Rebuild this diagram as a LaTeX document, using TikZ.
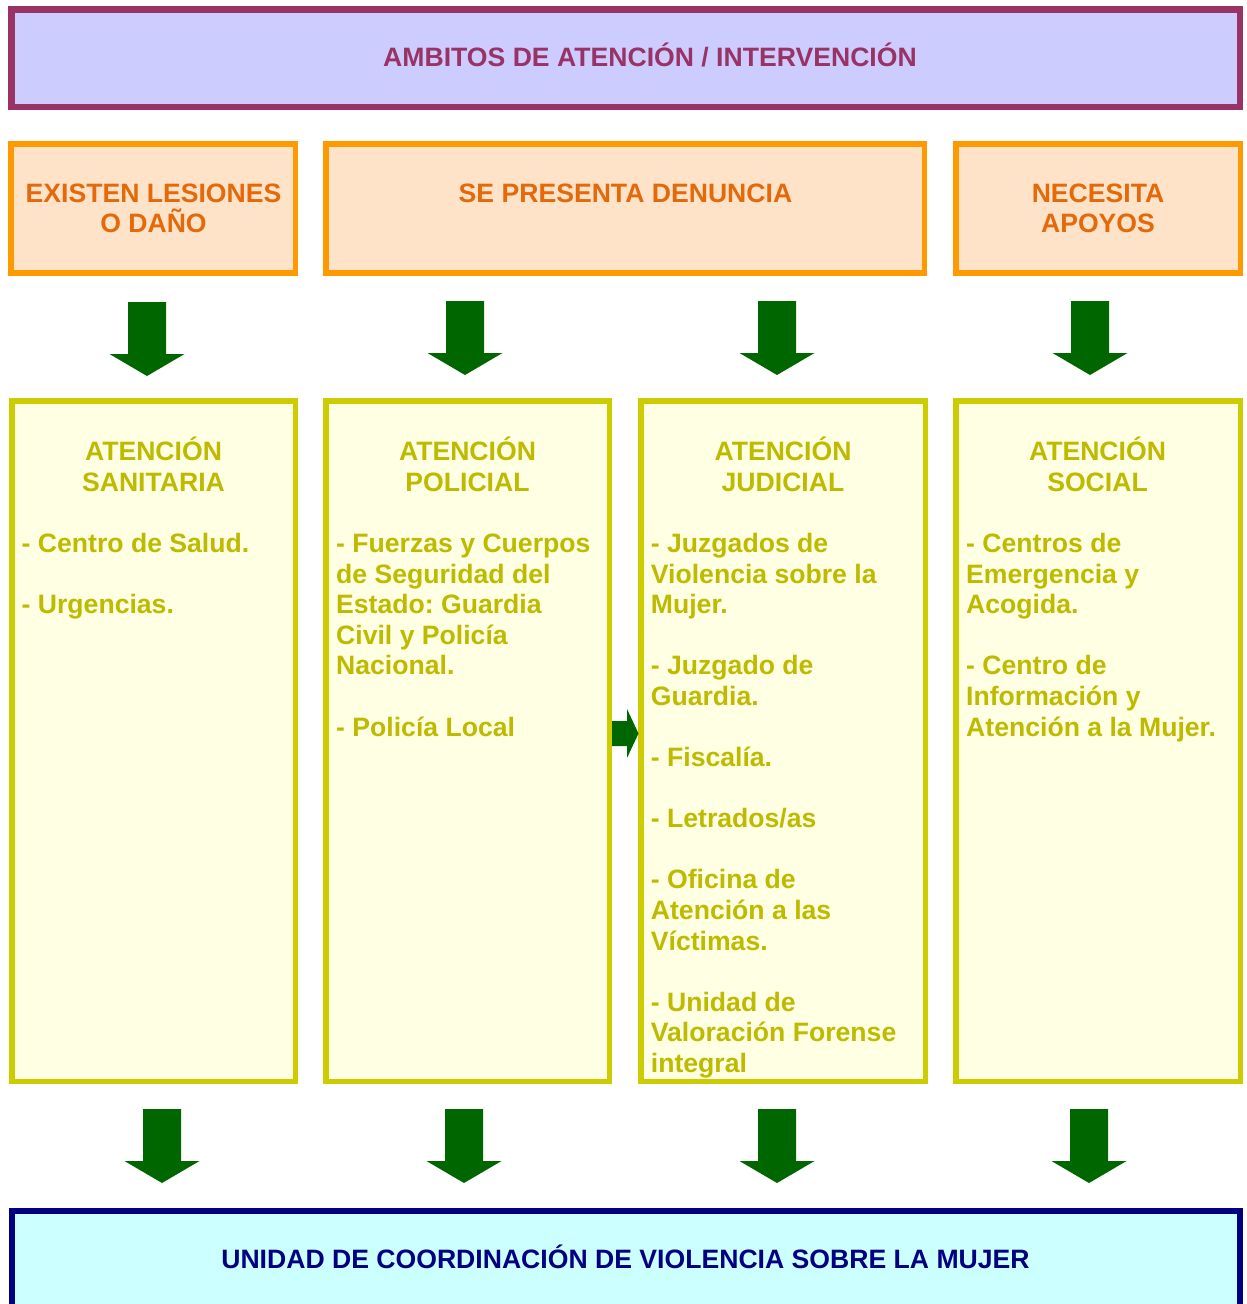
\documentclass[tikz,border=0pt]{standalone}
\usepackage{fontspec}
\setmainfont{Liberation Sans}
\frenchspacing
\definecolor{titlecol}{HTML}{993366}
\definecolor{titlefill}{HTML}{CCCCFF}
\definecolor{orangeline}{HTML}{FF9900}
\definecolor{orangefill}{HTML}{FFE3C9}
\definecolor{orangetext}{HTML}{E3690B}
\definecolor{yelline}{HTML}{CCCC00}
\definecolor{yelfill}{HTML}{FFFFE3}
\definecolor{yeltext}{HTML}{BDBA00}
\definecolor{navy}{HTML}{000080}
\definecolor{cyanfill}{HTML}{CCFFFF}
\definecolor{arrowgreen}{HTML}{006600}
\tikzset{
  txt/.style={inner sep=0pt, font=\fontsize{26.6}{30.6}\selectfont\bfseries\frenchspacing},
  titlebox/.style={draw=titlecol, fill=titlefill, line width=6.5pt},
  orangebox/.style={draw=orangeline, fill=orangefill, line width=5.5pt},
  yelbox/.style={draw=yelline, fill=yelfill, line width=5.5pt},
  bottombox/.style={draw=navy, fill=cyanfill, line width=6pt},
  garrow/.style={fill=arrowgreen},
}
\newcommand\garrowdown[2]{%
  \fill[garrow] (#1-19,#2) -- (#1+19,#2) -- (#1+19,#2+52) -- (#1+37.5,#2+52)
    -- (#1,#2+74) -- (#1-37.5,#2+52) -- (#1-19,#2+52) -- cycle;}
\newcommand\collist[4]{% name, x, first baseline, lines
  \foreach \t [count=\i from 0] in {#4} {
    \node[txt, text=yeltext, anchor=base west] (#1\i) at (#2, #3+\i*30.58) {\t};
  }}
\begin{document}
\begin{tikzpicture}[x=1pt,y=-1pt]
\useasboundingbox (0,0) rectangle (1247,1304);
\clip (0,0) rectangle (1247,1304);

% title
\draw[titlebox] (11.25,9.25) rectangle (1239.75,106.75);
\node[txt, text=titlecol, anchor=base] (title) at (650,66) {AMBITOS DE ATENCIÓN / INTERVENCIÓN};

% orange boxes
\draw[orangebox] (11,143.75) rectangle (295.25,272.75);
\draw[orangebox] (326,143.75) rectangle (924.25,272.75);
\draw[orangebox] (956,143.75) rectangle (1240.25,272.75);
\node[txt, text=orangetext, anchor=base] (o1a) at (153.5,202.7) {EXISTEN LESIONES};
\node[txt, text=orangetext, anchor=base] (o1b) at (153.5,232.5) {O DAÑO};
\node[txt, text=orangetext, anchor=base] (o2) at (625.5,202.7) {SE PRESENTA DENUNCIA};
\node[txt, text=orangetext, anchor=base] (o3a) at (1098,202.7) {NECESITA};
\node[txt, text=orangetext, anchor=base] (o3b) at (1098,232.5) {APOYOS};

% arrows row 1
\garrowdown{147}{302}
\garrowdown{465}{301}
\garrowdown{777}{301}
\garrowdown{1090}{301}

% yellow boxes
\draw[yelbox] (11.75,400.75) rectangle (295.25,1081.25);
\draw[yelbox] (325.75,400.75) rectangle (609.25,1081.25);
\draw[yelbox] (640.75,400.75) rectangle (925.25,1081.25);
\draw[yelbox] (955.75,400.75) rectangle (1240.25,1081.25);

% headings
\foreach \cx/\h/\n in {153.5/SANITARIA/1, 467.5/POLICIAL/2, 783/JUDICIAL/3, 1097.5/SOCIAL/4}{
  \node[txt, text=yeltext, anchor=base] (h\n a) at (\cx,460.9) {ATENCIÓN};
  \node[txt, text=yeltext, anchor=base] (h\n b) at (\cx,491.2) {\h};
}

% lists
\collist{la}{21.5}{552.6}{- Centro de Salud.,,- Urgencias.}
\collist{lb}{336}{552.6}{- Fuerzas y Cuerpos,de Seguridad del,Estado: Guardia,Civil y Policía,Nacional.,,- Policía Local}
\collist{lc}{650.7}{552.6}{- Juzgados de,Violencia sobre la,Mujer.,,- Juzgado de,Guardia.,,- Fiscalía.,,- Letrados/as,,- Oficina de,Atención a las,Víctimas.,,- Unidad de,Valoración Forense,integral}
\collist{ld}{966}{552.6}{- Centros de,Emergencia y,Acogida.,,- Centro de,Información y,Atención a la Mujer.}

% small right arrow
\fill[garrow] (612,721) -- (627,721) -- (627,709) -- (638.5,733.5) -- (627,758) -- (627,746) -- (612,746) -- cycle;

% arrows row 2
\garrowdown{162}{1109}
\garrowdown{464}{1109}
\garrowdown{777}{1109}
\garrowdown{1089}{1109}

% bottom box
\draw[bottombox] (12,1210.5) rectangle (1240,1330);
\node[txt, text=navy, anchor=base] (bottom) at (625.5,1268.3) {UNIDAD DE COORDINACIÓN DE VIOLENCIA SOBRE LA MUJER};
\end{tikzpicture}
\end{document}
